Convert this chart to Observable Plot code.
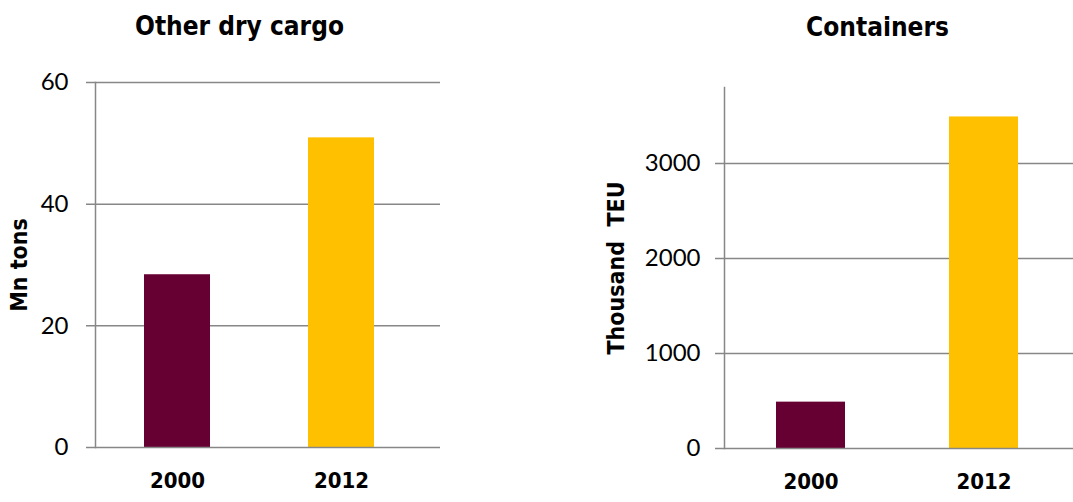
<!DOCTYPE html>
<html>
<head>
<meta charset="utf-8">
<script src="https://cdn.jsdelivr.net/npm/d3@7"></script>
<script src="https://cdn.jsdelivr.net/npm/@observablehq/plot@0.6"></script>
<style>
  html, body { margin: 0; padding: 0; background: #fff; }
  #wrap { position: relative; width: 1073px; height: 502px; overflow: hidden; }
  #left, #right { position: absolute; top: 0; }
  #left { left: 0; }
  #right { left: 536px; }
</style>
</head>
<body>
<div id="wrap"><div id="left"></div><div id="right"></div></div>
<script>
// ---- data ----
const years = ["2000", "2012"];
const dryCargo = [28.4, 50.9];          // Mn tons
const containers = [488, 3490];         // Thousand TEU
const barColors = ["#660033", "#FFC000"];
const dryTicks = [0, 20, 40, 60];
const contTicks = [0, 1000, 2000, 3000];
const titles = ["Other dry cargo", "Containers"];
const yLabels = ["Mn tons", "Thousand  TEU"];

const GRID = "#878787";
const BOLD = "'DejaVu Sans Condensed', 'DejaVu Sans', sans-serif";
const REG = "Lato, 'Open Sans', sans-serif";

function panel({values, ticks, domain, title, ylabel, width, marginLeft, marginRight, marginTop, marginBottom, tickPad, ylabelDx, titleDy}) {
  const data = years.map((y, i) => ({year: y, value: values[i], color: barColors[i]}));
  return Plot.plot({
    width, height: 502,
    marginLeft, marginRight, marginTop, marginBottom,
    style: {background: "#fff", overflow: "visible"},
    x: {domain: years, paddingInner: 0.6, paddingOuter: 0.3, label: null},
    y: {domain, label: null},
    marks: [
      Plot.ruleY(ticks.filter(t => t !== 0), {stroke: GRID, strokeWidth: 1.5, insetLeft: -9, insetRight: -marginRight}),
      Plot.barY(data, {x: "year", y: "value", fill: "color"}),
      Plot.ruleY([0], {stroke: GRID, strokeWidth: 1.5, insetLeft: -9, insetRight: -marginRight}),
      Plot.frame({anchor: "left", stroke: GRID, strokeWidth: 1.5}),
      Plot.axisY({ticks, tickFormat: d3.format("d"), tickSize: 0, tickPadding: tickPad, label: null, fontSize: 24, fontFamily: REG, fill: "#000"}),
      Plot.axisX({tickSize: 0, tickPadding: 25, label: null, fontSize: 22, fontWeight: "bold", fontFamily: BOLD, fill: "#000"}),
      Plot.text([ylabel], {frameAnchor: "left", rotate: -90, dx: ylabelDx, text: d => d, fontSize: 23, fontWeight: "bold", fontFamily: BOLD, fill: "#000", textAnchor: "middle", lineAnchor: "middle"}),
      Plot.text([title], {frameAnchor: "top", dx: -20, dy: titleDy, text: d => d, fontSize: 26, fontWeight: "bold", fontFamily: BOLD, fill: "#000", lineAnchor: "bottom"})
    ]
  });
}

document.getElementById("left").appendChild(panel({
  values: dryCargo, ticks: dryTicks, domain: [0, 60],
  title: titles[0], ylabel: yLabels[0],
  width: 440, marginLeft: 95, marginRight: 17, marginTop: 82, marginBottom: 55,
  tickPad: 27, ylabelDx: -76, titleDy: -48
}));

document.getElementById("right").appendChild(panel({
  values: containers, ticks: contTicks, domain: [0, 3800],
  title: titles[1], ylabel: yLabels[1],
  width: 537, marginLeft: 188, marginRight: 3, marginTop: 87, marginBottom: 54,
  tickPad: 24, ylabelDx: -108, titleDy: -52
}));
</script>
</body>
</html>
